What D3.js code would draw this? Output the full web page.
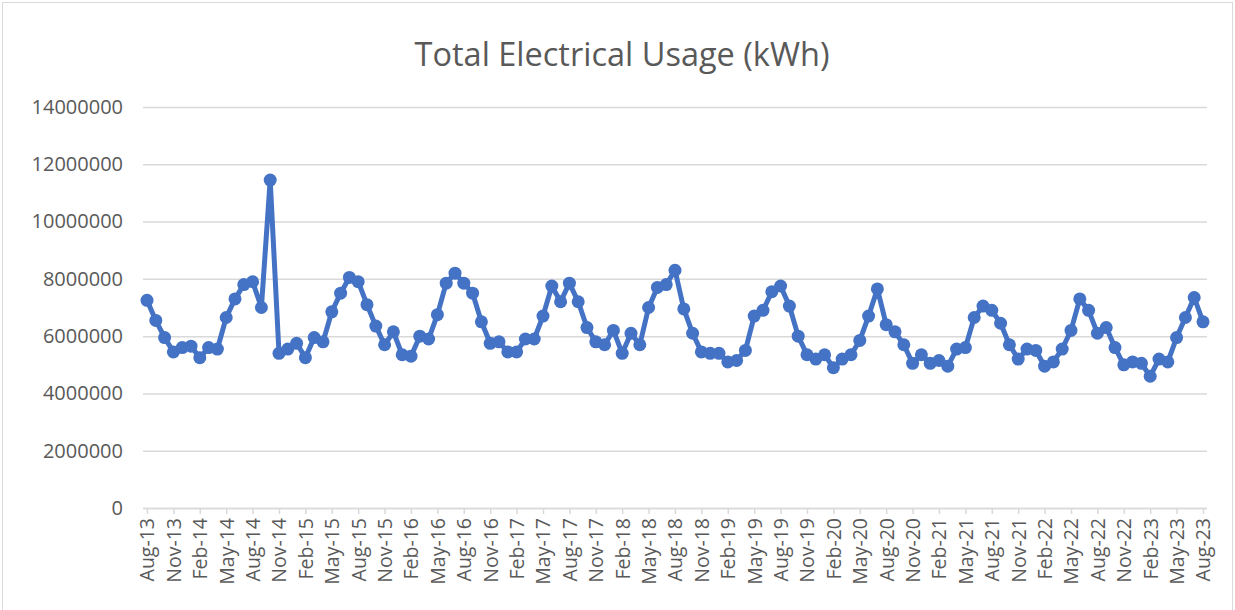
<!DOCTYPE html>
<html lang="en">
<head>
  <meta charset="UTF-8" />
  <title>Total Electrical Usage (kWh)</title>
  <style>
    body { margin: 0; background: #fff; font-family: "Open Sans", Arial, sans-serif; }
    .tick text { fill: #595959; }
  </style>
</head>
<body>
  <div id="chart"></div>
  <script src="https://d3js.org/d3.v7.min.js"></script>
  <script>
    // monthly usage, Aug-13 .. Aug-23
    var months = d3.timeMonth.range(new Date(2013, 7, 1), new Date(2023, 8, 1))
      .map(d3.timeFormat("%b-%y"));
    var usage = [
      7250000, 6550000, 5950000, 5450000, 5600000, 5650000, 5250000, 5600000, 5550000, 6650000, 7300000, 7800000,
      7900000, 7000000, 11450000, 5400000, 5550000, 5750000, 5250000, 5950000, 5800000, 6850000, 7500000, 8050000,
      7900000, 7100000, 6350000, 5700000, 6150000, 5350000, 5300000, 6000000, 5900000, 6750000, 7850000, 8200000,
      7850000, 7500000, 6500000, 5750000, 5800000, 5450000, 5450000, 5900000, 5900000, 6700000, 7750000, 7200000,
      7850000, 7200000, 6300000, 5800000, 5700000, 6200000, 5400000, 6100000, 5700000, 7000000, 7700000, 7800000,
      8300000, 6950000, 6100000, 5450000, 5400000, 5400000, 5100000, 5150000, 5500000, 6700000, 6900000, 7550000,
      7750000, 7050000, 6000000, 5350000, 5200000, 5350000, 4900000, 5200000, 5350000, 5850000, 6700000, 7650000,
      6400000, 6150000, 5700000, 5050000, 5350000, 5050000, 5150000, 4950000, 5550000, 5600000, 6650000, 7050000,
      6900000, 6450000, 5700000, 5200000, 5550000, 5500000, 4950000, 5100000, 5550000, 6200000, 7300000, 6900000,
      6100000, 6300000, 5600000, 5000000, 5100000, 5050000, 4600000, 5200000, 5100000, 5950000, 6650000, 7350000,
      6500000
    ];
    var yTicks = [0, 2000000, 4000000, 6000000, 8000000, 10000000, 12000000, 14000000];

    var W = 1235, H = 610;
    var svg = d3.select("#chart").append("svg")
      .attr("width", W).attr("height", H);

    // chart frame
    svg.append("rect")
      .attr("x", 2.5).attr("y", 2.5).attr("width", W - 5).attr("height", H + 10)
      .attr("fill", "none").attr("stroke", "#d9d9d9");

    svg.append("text")
      .attr("x", 622).attr("y", 66)
      .attr("text-anchor", "middle")
      .attr("font-size", 32.5).attr("fill", "#595959")
      .text("Total Electrical Usage (kWh)");

    var x = d3.scalePoint().domain(months).range([147, 1203]);
    var y = d3.scaleLinear().domain([0, 14000000]).range([508, 107]);

    // gridlines + y axis labels
    var yAxis = svg.append("g")
      .attr("transform", "translate(143,0)")
      .call(d3.axisLeft(y).tickValues(yTicks).tickFormat(d3.format("d"))
        .tickSize(-(1207 - 143)).tickPadding(20));
    yAxis.select(".domain").remove();
    yAxis.selectAll("line").attr("stroke", "#d9d9d9").attr("stroke-width", 1.5);
    yAxis.selectAll("text").attr("font-size", 20).attr("font-family", "Open Sans, Arial, sans-serif");

    // x axis
    var xAxis = svg.append("g")
      .attr("transform", "translate(0,508)")
      .call(d3.axisBottom(x).tickValues(months.filter(function(d, i) { return i % 3 === 0; }))
        .tickSize(6).tickSizeOuter(0));
    xAxis.select(".domain").attr("d", "M143,0.5H1207").attr("stroke", "#d9d9d9").attr("stroke-width", 1.5);
    xAxis.selectAll("line").attr("stroke", "#d9d9d9").attr("stroke-width", 1.5);
    xAxis.selectAll("text")
      .attr("font-size", 19.5).attr("font-family", "Open Sans, Arial, sans-serif")
      .attr("transform", "rotate(-90)")
      .attr("text-anchor", "end")
      .attr("x", -10).attr("y", 0).attr("dy", "0.35em");

    // series
    var line = d3.line()
      .x(function(d, i) { return x(months[i]); })
      .y(function(d) { return y(d); });

    svg.append("path")
      .datum(usage)
      .attr("d", line)
      .attr("fill", "none")
      .attr("stroke", "#4472c4")
      .attr("stroke-width", 5)
      .attr("stroke-linejoin", "round");

    svg.append("g").selectAll("circle")
      .data(usage)
      .enter()
      .append("circle")
      .attr("cx", function(d, i) { return x(months[i]); })
      .attr("cy", function(d) { return y(d); })
      .attr("r", 6.5)
      .attr("fill", "#4472c4");
  </script>
</body>
</html>
